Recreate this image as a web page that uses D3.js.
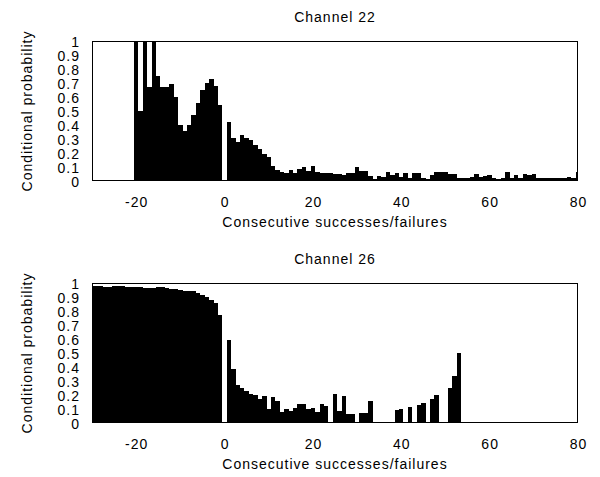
<!DOCTYPE html>
<html>
<head>
<meta charset="utf-8">
<script src="https://cdn.jsdelivr.net/npm/d3@7"></script>
<style>
  html, body { margin: 0; padding: 0; background: #fff; }
  text { font-family: "Liberation Sans", Arial, Helvetica, sans-serif; font-size: 14px; letter-spacing: 1px; fill: #000; }
</style>
</head>
<body>
<svg id="chart" width="600" height="477"></svg>
<script>
// ---------- data ----------
const xTickValues = [-20, 0, 20, 40, 60, 80];
const yTickValues = [0, 0.1, 0.2, 0.3, 0.4, 0.5, 0.6, 0.7, 0.8, 0.9, 1];
const xDomain = [-30, 80];
const titles = ["Channel 22", "Channel 26"];
const xLabel = "Consecutive successes/failures";
const yLabel = "Conditional probability";

// Channel 22: bars for x = -20 ... 80
const ch22Start = -20;
const ch22Values = [
  1.0, 0.5, 1.0, 0.67, 1.0, 0.75, 0.67, 0.67, 0.69, 0.6,
  0.4, 0.36, 0.4, 0.47, 0.56, 0.65, 0.7, 0.73, 0.68, 0.54,
  0,
  0.42, 0.31, 0.28, 0.33, 0.31, 0.29, 0.26, 0.23, 0.19, 0.17,
  0.11, 0.08, 0.067, 0.06, 0.08, 0.055, 0.086, 0.1, 0.075, 0.11,
  0.067, 0.06, 0.055, 0.055, 0.05, 0.05, 0.045, 0.06, 0.055, 0.1,
  0.074, 0.07, 0.038, 0.014, 0.038, 0.03, 0.062, 0.043, 0.055, 0.03,
  0.055, 0.02, 0.06, 0.055, 0.024, 0.014, 0.043, 0.062, 0.067, 0.062,
  0.048, 0.048, 0.025, 0.025, 0.025, 0.03, 0.048, 0.03, 0.038, 0.043,
  0.025, 0.014, 0.025, 0.067, 0.025, 0.043, 0.025, 0.05, 0.043, 0.05,
  0.02, 0.02, 0.025, 0.025, 0.02, 0.025, 0.025, 0.03, 0.02, 0.062
];

// Channel 26: bars for x = -30 ... 53
const ch26Start = -30;
const ch26Values = [
  0.98, 0.978, 0.976, 0.975, 0.972, 0.98, 0.977, 0.976, 0.972, 0.97,
  0.97, 0.968, 0.964, 0.967, 0.965, 0.968, 0.968, 0.963, 0.955, 0.955,
  0.95, 0.946, 0.946, 0.94, 0.93, 0.914, 0.9, 0.88, 0.86, 0.77,
  0,
  0.59, 0.385, 0.275, 0.25, 0.228, 0.207, 0.2, 0.17, 0.193, 0.1,
  0.188, 0.157, 0.081, 0.098, 0.086, 0.105, 0.136, 0.138, 0.098, 0.11,
  0.076, 0.133, 0.121, 0, 0.207, 0.088, 0.195, 0.066, 0.066, 0,
  0.071, 0.074, 0.157, 0, 0, 0, 0, 0, 0.093, 0.1,
  0, 0.112, 0, 0.126, 0.145, 0, 0.169, 0.2, 0, 0,
  0.252, 0.336, 0.5
];

// ---------- layout ----------
const svg = d3.select("#chart");
const plotLeft = 92, plotRight = 578;
const panels = [
  { title: titles[0], start: ch22Start, values: ch22Values, top: 41, bottom: 181 },
  { title: titles[1], start: ch26Start, values: ch26Values, top: 283, bottom: 423 }
];

const x = d3.scaleLinear().domain(xDomain).range([plotLeft, plotRight]);

panels.forEach((p, i) => {
  const y = d3.scaleLinear().domain([0, 1]).range([p.bottom, p.top]);
  const g = svg.append("g");
  const clipId = "clip" + i;
  svg.append("defs").append("clipPath").attr("id", clipId)
    .append("rect")
    .attr("x", plotLeft).attr("y", p.top)
    .attr("width", plotRight - plotLeft).attr("height", p.bottom - p.top);

  const data = p.values.map((v, k) => ({ x: p.start + k, v: v })).filter(d => d.v > 0);

  g.append("g").attr("clip-path", `url(#${clipId})`)
    .attr("shape-rendering", "crispEdges")
    .selectAll("rect").data(data).join("rect")
    .attr("x", d => x(d.x - 0.5))
    .attr("width", d => x(d.x + 0.5) - x(d.x - 0.5))
    .attr("y", d => y(d.v))
    .attr("height", d => y(0) - y(d.v))
    .attr("fill", "#000");

  // frame
  g.append("rect")
    .attr("x", plotLeft + 0.5).attr("y", p.top + 0.5)
    .attr("width", plotRight - plotLeft - 1).attr("height", p.bottom - p.top - 1)
    .attr("fill", "none").attr("stroke", "#000").attr("stroke-width", 1);

  // x axis labels
  const xAxis = d3.axisBottom(x).tickValues(xTickValues).tickSize(0).tickPadding(0)
    .tickFormat(d => String(d));
  const xa = g.append("g").attr("transform", `translate(0,${p.bottom})`).call(xAxis);
  xa.select(".domain").remove();
  xa.selectAll("text").attr("dy", null).attr("y", 25.5)
    .attr("font-size", null).attr("font-family", null);

  // y axis labels
  const yAxis = d3.axisLeft(y).tickValues(yTickValues).tickSize(0).tickPadding(12)
    .tickFormat(d => String(d));
  const ya = g.append("g").attr("transform", `translate(${plotLeft},0)`).call(yAxis);
  ya.select(".domain").remove();
  ya.selectAll("text").attr("dy", "0.36em").attr("font-size", null).attr("font-family", null);

  // title
  g.append("text")
    .attr("x", (plotLeft + plotRight) / 2).attr("y", p.top - 19)
    .attr("text-anchor", "middle").text(p.title);

  // x label
  g.append("text")
    .attr("x", (plotLeft + plotRight) / 2).attr("y", p.bottom + 46)
    .attr("text-anchor", "middle").text(xLabel);

  // y label
  g.append("text")
    .attr("transform", `translate(31.5,${(p.top + p.bottom) / 2}) rotate(-90)`)
    .attr("text-anchor", "middle").text(yLabel);
});
</script>
</body>
</html>
